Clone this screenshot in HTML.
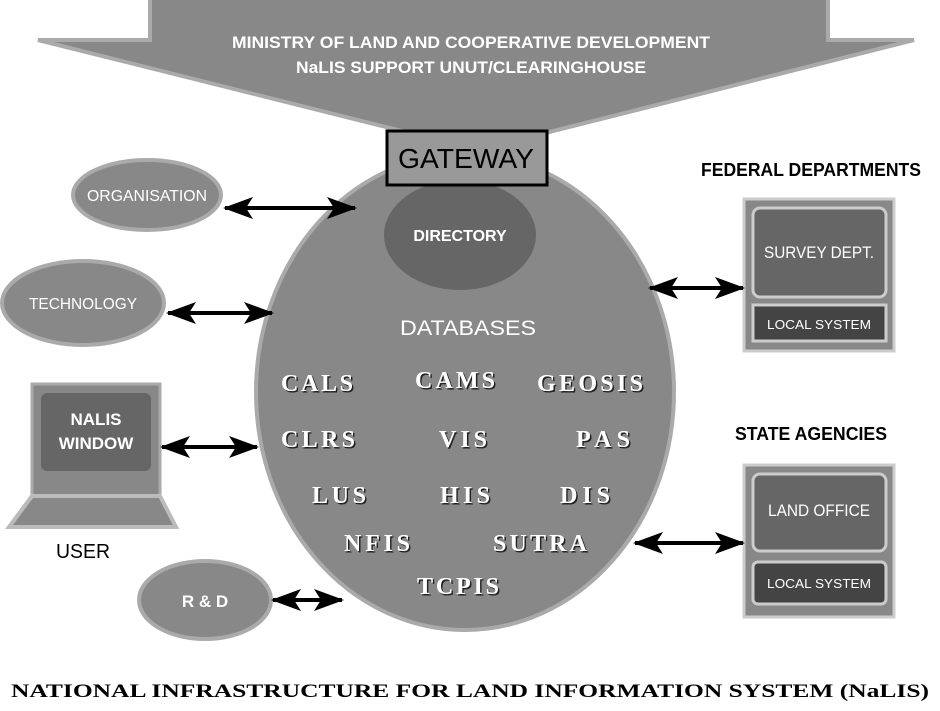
<!DOCTYPE html>
<html><head><style>body{margin:0;background:#fff}svg{display:block}</style></head><body>
<svg width="940" height="711" viewBox="0 0 940 711" xmlns="http://www.w3.org/2000/svg" font-family="Liberation Sans, sans-serif">
<defs>
<marker id="ah" viewBox="0 0 30 22" refX="28" refY="11" markerWidth="30" markerHeight="22" markerUnits="userSpaceOnUse" orient="auto-start-reverse">
<path d="M0,0 L30,11 L0,22 L7,11 Z" fill="#000"/></marker>
<filter id="sh"><feDropShadow dx="1.5" dy="1.5" stdDeviation="0" flood-color="#222"/></filter>
</defs>
<polygon points="150,-5 828,-5 828,40 914,40 478,150 38,40 150,40" fill="#888" stroke="#aaa" stroke-width="4"/>
<text x="471" y="48" fill="#fff" font-size="17" font-weight="bold" text-anchor="middle" textLength="478" lengthAdjust="spacingAndGlyphs">MINISTRY OF LAND AND COOPERATIVE DEVELOPMENT</text>
<text x="471" y="73" fill="#fff" font-size="17" font-weight="bold" text-anchor="middle" textLength="350" lengthAdjust="spacingAndGlyphs">NaLIS SUPPORT UNUT/CLEARINGHOUSE</text>
<ellipse cx="465" cy="392" rx="209" ry="238" fill="#888" stroke="#aaa" stroke-width="4"/>
<ellipse cx="460" cy="235" rx="76" ry="55" fill="#666"/>
<text x="460" y="241" fill="#fff" font-size="16" font-weight="bold" text-anchor="middle">DIRECTORY</text>
<rect x="387" y="131" width="160" height="54" fill="#999" stroke="#000" stroke-width="3"/>
<text x="466" y="168" font-size="28" text-anchor="middle" textLength="136" lengthAdjust="spacingAndGlyphs">GATEWAY</text>
<text x="468" y="335" fill="#fff" font-size="21" text-anchor="middle" textLength="136" lengthAdjust="spacingAndGlyphs">DATABASES</text>
<g fill="#fff" font-family="Liberation Serif, serif" font-weight="bold" font-size="24" text-anchor="middle" filter="url(#sh)" lengthAdjust="spacingAndGlyphs">
<text x="317" y="391" textLength="72">CALS</text><text x="455" y="388" textLength="80">CAMS</text><text x="590" y="391" textLength="106">GEOSIS</text>
<text x="318" y="447" textLength="74">CLRS</text><text x="463" y="447" textLength="48">VIS</text><text x="603" y="447" textLength="54">PAS</text>
<text x="339" y="503" textLength="54">LUS</text><text x="465" y="503" textLength="50">HIS</text><text x="585" y="503" textLength="50">DIS</text>
<text x="377" y="551" textLength="66">NFIS</text><text x="540" y="551" textLength="94">SUTRA</text><text x="458" y="594" textLength="82">TCPIS</text>
</g>
<ellipse cx="147" cy="195" rx="74" ry="35" fill="#888" stroke="#aaa" stroke-width="4"/>
<text x="147" y="201" fill="#fff" font-size="16" text-anchor="middle" textLength="120" lengthAdjust="spacingAndGlyphs">ORGANISATION</text>
<ellipse cx="83" cy="303" rx="81" ry="42" fill="#888" stroke="#aaa" stroke-width="4"/>
<text x="83" y="309" fill="#fff" font-size="16" text-anchor="middle" textLength="108" lengthAdjust="spacingAndGlyphs">TECHNOLOGY</text>
<ellipse cx="205" cy="600" rx="66" ry="39" fill="#888" stroke="#aaa" stroke-width="4"/>
<text x="205" y="607" fill="#fff" font-size="17" font-weight="bold" text-anchor="middle">R &amp; D</text>
<rect x="32" y="384" width="128" height="112" fill="#888" stroke="#aaa" stroke-width="3"/>
<rect x="41" y="393" width="110" height="78" rx="6" fill="#666"/>
<text x="96" y="425" fill="#fff" font-size="17" font-weight="bold" text-anchor="middle">NALIS</text>
<text x="96" y="449" fill="#fff" font-size="17" font-weight="bold" text-anchor="middle">WINDOW</text>
<polygon points="32,496 160,496 176,527 9,527" fill="#888" stroke="#bbb" stroke-width="4"/>
<text x="83" y="558" font-size="20" text-anchor="middle" textLength="54" lengthAdjust="spacingAndGlyphs">USER</text>
<text x="811" y="176" font-size="18" font-weight="bold" text-anchor="middle" textLength="220" lengthAdjust="spacingAndGlyphs">FEDERAL DEPARTMENTS</text>
<rect x="744" y="199" width="150" height="152" fill="#888" stroke="#ccc" stroke-width="3"/>
<rect x="753" y="208" width="133" height="89" rx="7" fill="#666" stroke="#ccc" stroke-width="3"/>
<text x="819" y="258" fill="#fff" font-size="17" text-anchor="middle" textLength="110" lengthAdjust="spacingAndGlyphs">SURVEY DEPT.</text>
<rect x="753" y="305" width="133" height="36" fill="#444" stroke="#ccc" stroke-width="3"/>
<text x="819" y="329" fill="#fff" font-size="13" text-anchor="middle" textLength="104" lengthAdjust="spacingAndGlyphs">LOCAL SYSTEM</text>
<text x="811" y="440" font-size="18" font-weight="bold" text-anchor="middle" textLength="152" lengthAdjust="spacingAndGlyphs">STATE AGENCIES</text>
<rect x="744" y="465" width="150" height="152" fill="#888" stroke="#ccc" stroke-width="3"/>
<rect x="753" y="474" width="133" height="77" rx="7" fill="#666" stroke="#ccc" stroke-width="3"/>
<text x="819" y="516" fill="#fff" font-size="17" text-anchor="middle" textLength="102" lengthAdjust="spacingAndGlyphs">LAND OFFICE</text>
<rect x="753" y="562" width="133" height="42" rx="5" fill="#444" stroke="#ccc" stroke-width="3"/>
<text x="819" y="588" fill="#fff" font-size="13" text-anchor="middle" textLength="104" lengthAdjust="spacingAndGlyphs">LOCAL SYSTEM</text>
<g stroke="#000" stroke-width="4" marker-start="url(#ah)" marker-end="url(#ah)">
<line x1="225" y1="208" x2="355" y2="208"/>
<line x1="168" y1="313" x2="272" y2="313"/>
<line x1="162" y1="447" x2="257" y2="447"/>
<line x1="273" y1="600" x2="342" y2="600"/>
<line x1="650" y1="288" x2="743" y2="288"/>
<line x1="635" y1="543" x2="743" y2="543"/>
</g>
<text x="470" y="697" font-family="Liberation Serif, serif" font-weight="bold" font-size="19" text-anchor="middle" textLength="918" lengthAdjust="spacingAndGlyphs">NATIONAL INFRASTRUCTURE FOR LAND INFORMATION SYSTEM (NaLIS)</text>
</svg>
</body></html>
